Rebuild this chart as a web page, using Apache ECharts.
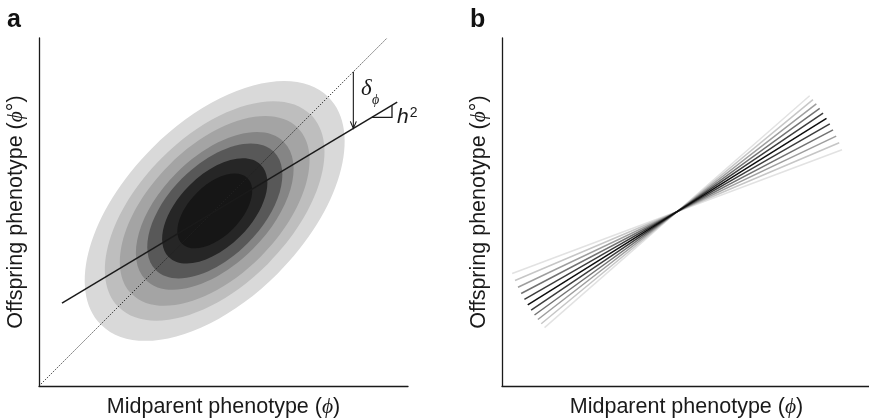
<!DOCTYPE html>
<html>
<head>
<meta charset="utf-8">
<script src="https://cdn.jsdelivr.net/npm/echarts@6/dist/echarts.min.js"></script>
<style>
  html, body { margin: 0; padding: 0; background: #fff; }
  #main { width: 869px; height: 419px; }
</style>
</head>
<body>
<div id="main"></div>
<script>
// panel a: contour ellipses, data units (x 0..10.6, y 0..10)
var ellipseCenter = [5.05, 5.03];
var ellipseAxes = [4.62, 2.55]; // semi-major, semi-minor of outer contour
var ellipseTilt = 45; // degrees
var contourScale = [1, 0.845, 0.73, 0.607, 0.52, 0.405, 0.288];

var diagX = [0, 10];
var diagY = [0, 10];
var regX = [0.66, 10.29];
var regY = [2.38, 8.16];

var deltaX = 9.03;        // arrow from diagonal down to regression line
var triX = [9.56, 10.14]; // h2 slope triangle

// panel b: fan of regression lines through a common point
var fanCenter = [5.03, 5.01];
var fanHalfLength = 5.06;
var fanSlopes = [0.375, 0.425, 0.475, 0.525, 0.575, 0.625, 0.675, 0.725, 0.775, 0.825, 0.875];

// styles
var contourColors = ['#d9d9d9', '#bebebe', '#a4a4a4', '#858585', '#585858', '#262626', '#161616'];
var fanColors = ['#e2e2e2', '#c6c6c6', '#9e9e9e', '#727272', '#3c3c3c', '#0d0d0d',
                 '#3c3c3c', '#727272', '#9e9e9e', '#c6c6c6', '#e2e2e2'];
var ink = '#1a1a1a';
var sans = '"Liberation Sans", Arial, Helvetica, sans-serif';
var serif = '"Liberation Serif", "DejaVu Serif", serif';

function lineY(xs, ys, x) {
  return ys[0] + (ys[1] - ys[0]) * (x - xs[0]) / (xs[1] - xs[0]);
}

var nameStyle = {
  fontFamily: sans,
  fontSize: 21.5,
  color: ink,
  rich: {
    i: { fontFamily: serif, fontStyle: 'italic', fontSize: 21.5, color: ink }
  }
};

function xAxis(gi) {
  return {
    gridIndex: gi, type: 'value', min: 0, max: 10.6,
    axisLine: { show: true, onZero: false, lineStyle: { color: ink, width: 1.3 } },
    axisTick: { show: false }, axisLabel: { show: false }, splitLine: { show: false },
    name: 'Midparent phenotype ({i|ϕ})', nameLocation: 'middle', nameGap: 10,
    nameTextStyle: nameStyle
  };
}
function yAxis(gi) {
  return {
    gridIndex: gi, type: 'value', min: 0, max: 10,
    axisLine: { show: true, onZero: false, lineStyle: { color: ink, width: 1.3 } },
    axisTick: { show: false }, axisLabel: { show: false }, splitLine: { show: false },
    name: 'Offspring phenotype ({i|ϕ}°)', nameLocation: 'middle', nameGap: 12,
    nameTextStyle: nameStyle
  };
}

var chart = echarts.init(document.getElementById('main'));

var option = {
  animation: false,
  grid: [
    { left: 39, top: 38, width: 369, height: 348, outerBoundsMode: 'none' },
    { left: 502, top: 38, width: 369, height: 348, outerBoundsMode: 'none' }
  ],
  xAxis: [xAxis(0), xAxis(1)],
  yAxis: [yAxis(0), yAxis(1)],
  graphic: [
    { type: 'text', left: 7, top: 8, style: { text: 'a', font: 'bold 25px ' + sans, fill: '#111' } },
    { type: 'text', left: 470, top: 8, style: { text: 'b', font: 'bold 25px ' + sans, fill: '#111' } }
  ],
  series: [
    {
      // density contours
      type: 'custom', xAxisIndex: 0, yAxisIndex: 0, silent: true,
      data: contourScale.map(function (s) { return [ellipseCenter[0], ellipseCenter[1], s]; }),
      renderItem: function (params, api) {
        var c = api.coord([api.value(0), api.value(1)]);
        var unit = api.size([1, 1]);
        var s = api.value(2);
        return {
          type: 'ellipse',
          x: c[0], y: c[1],
          rotation: ellipseTilt * Math.PI / 180,
          shape: { cx: 0, cy: 0, rx: ellipseAxes[0] * s * unit[0], ry: ellipseAxes[1] * s * unit[1] },
          style: { fill: contourColors[params.dataIndex] }
        };
      },
      z: 1
    },
    {
      type: 'line', xAxisIndex: 0, yAxisIndex: 0, silent: true,
      data: diagX.map(function (x, i) { return [x, diagY[i]]; }),
      symbol: 'none',
      lineStyle: { color: '#222', width: 1, type: [1.2, 1.6] },
      z: 2
    },
    {
      type: 'line', xAxisIndex: 0, yAxisIndex: 0, silent: true,
      data: regX.map(function (x, i) { return [x, regY[i]]; }),
      symbol: 'none',
      lineStyle: { color: ink, width: 1.5 },
      z: 3
    },
    {
      // delta arrow, h2 triangle and labels
      type: 'custom', xAxisIndex: 0, yAxisIndex: 0, silent: true,
      data: [[deltaX, lineY(regX, regY, deltaX)]],
      renderItem: function (params, api) {
        var top = api.coord([deltaX, lineY(diagX, diagY, deltaX)]);
        var bot = api.coord([deltaX, lineY(regX, regY, deltaX)]);
        var yt = lineY(regX, regY, triX[0]);
        var p1 = api.coord([triX[0], yt]);
        var p2 = api.coord([triX[1], yt]);
        var p3 = api.coord([triX[1], lineY(regX, regY, triX[1])]);
        var lbl = function (text, at, font) {
          var p = api.coord(at);
          return { type: 'text', x: p[0], y: p[1],
                   style: { text: text, font: font, fill: ink, align: 'center', verticalAlign: 'middle' } };
        };
        return {
          type: 'group',
          children: [
            { type: 'line', shape: { x1: top[0], y1: top[1], x2: bot[0], y2: bot[1] - 0.5 },
              style: { stroke: ink, lineWidth: 1.1 } },
            { type: 'polyline', shape: { points: [[bot[0] - 3, bot[1] - 7], [bot[0], bot[1]], [bot[0] + 3, bot[1] - 7]] },
              style: { stroke: ink, lineWidth: 1.1, fill: null } },
            { type: 'polyline', shape: { points: [p1, p2, p3] },
              style: { stroke: ink, lineWidth: 1.3, fill: null } },
            lbl('δ', [9.40, 8.55], 'italic 23px ' + serif),
            lbl('ϕ', [9.67, 8.21], 'italic 14px ' + serif),
            lbl('h', [10.45, 7.72], 'italic 21px ' + sans),
            lbl('2', [10.76, 7.84], '14px ' + sans)
          ]
        };
      },
      z: 4
    },
    {
      // panel b fan
      type: 'custom', xAxisIndex: 1, yAxisIndex: 1, silent: true,
      data: fanSlopes.map(function (k) { return [fanCenter[0], fanCenter[1], k]; }),
      renderItem: function (params, api) {
        var th = Math.atan(api.value(2));
        var dx = fanHalfLength * Math.cos(th), dy = fanHalfLength * Math.sin(th);
        var a = api.coord([api.value(0) - dx, api.value(1) - dy]);
        var b = api.coord([api.value(0) + dx, api.value(1) + dy]);
        var mid = (fanSlopes.length - 1) / 2;
        return {
          type: 'line',
          z2: 10 - Math.abs(params.dataIndex - mid),
          shape: { x1: a[0], y1: a[1], x2: b[0], y2: b[1] },
          style: { stroke: fanColors[params.dataIndex], lineWidth: 1.5 }
        };
      }
    }
  ]
};

chart.setOption(option);
</script>
</body>
</html>
